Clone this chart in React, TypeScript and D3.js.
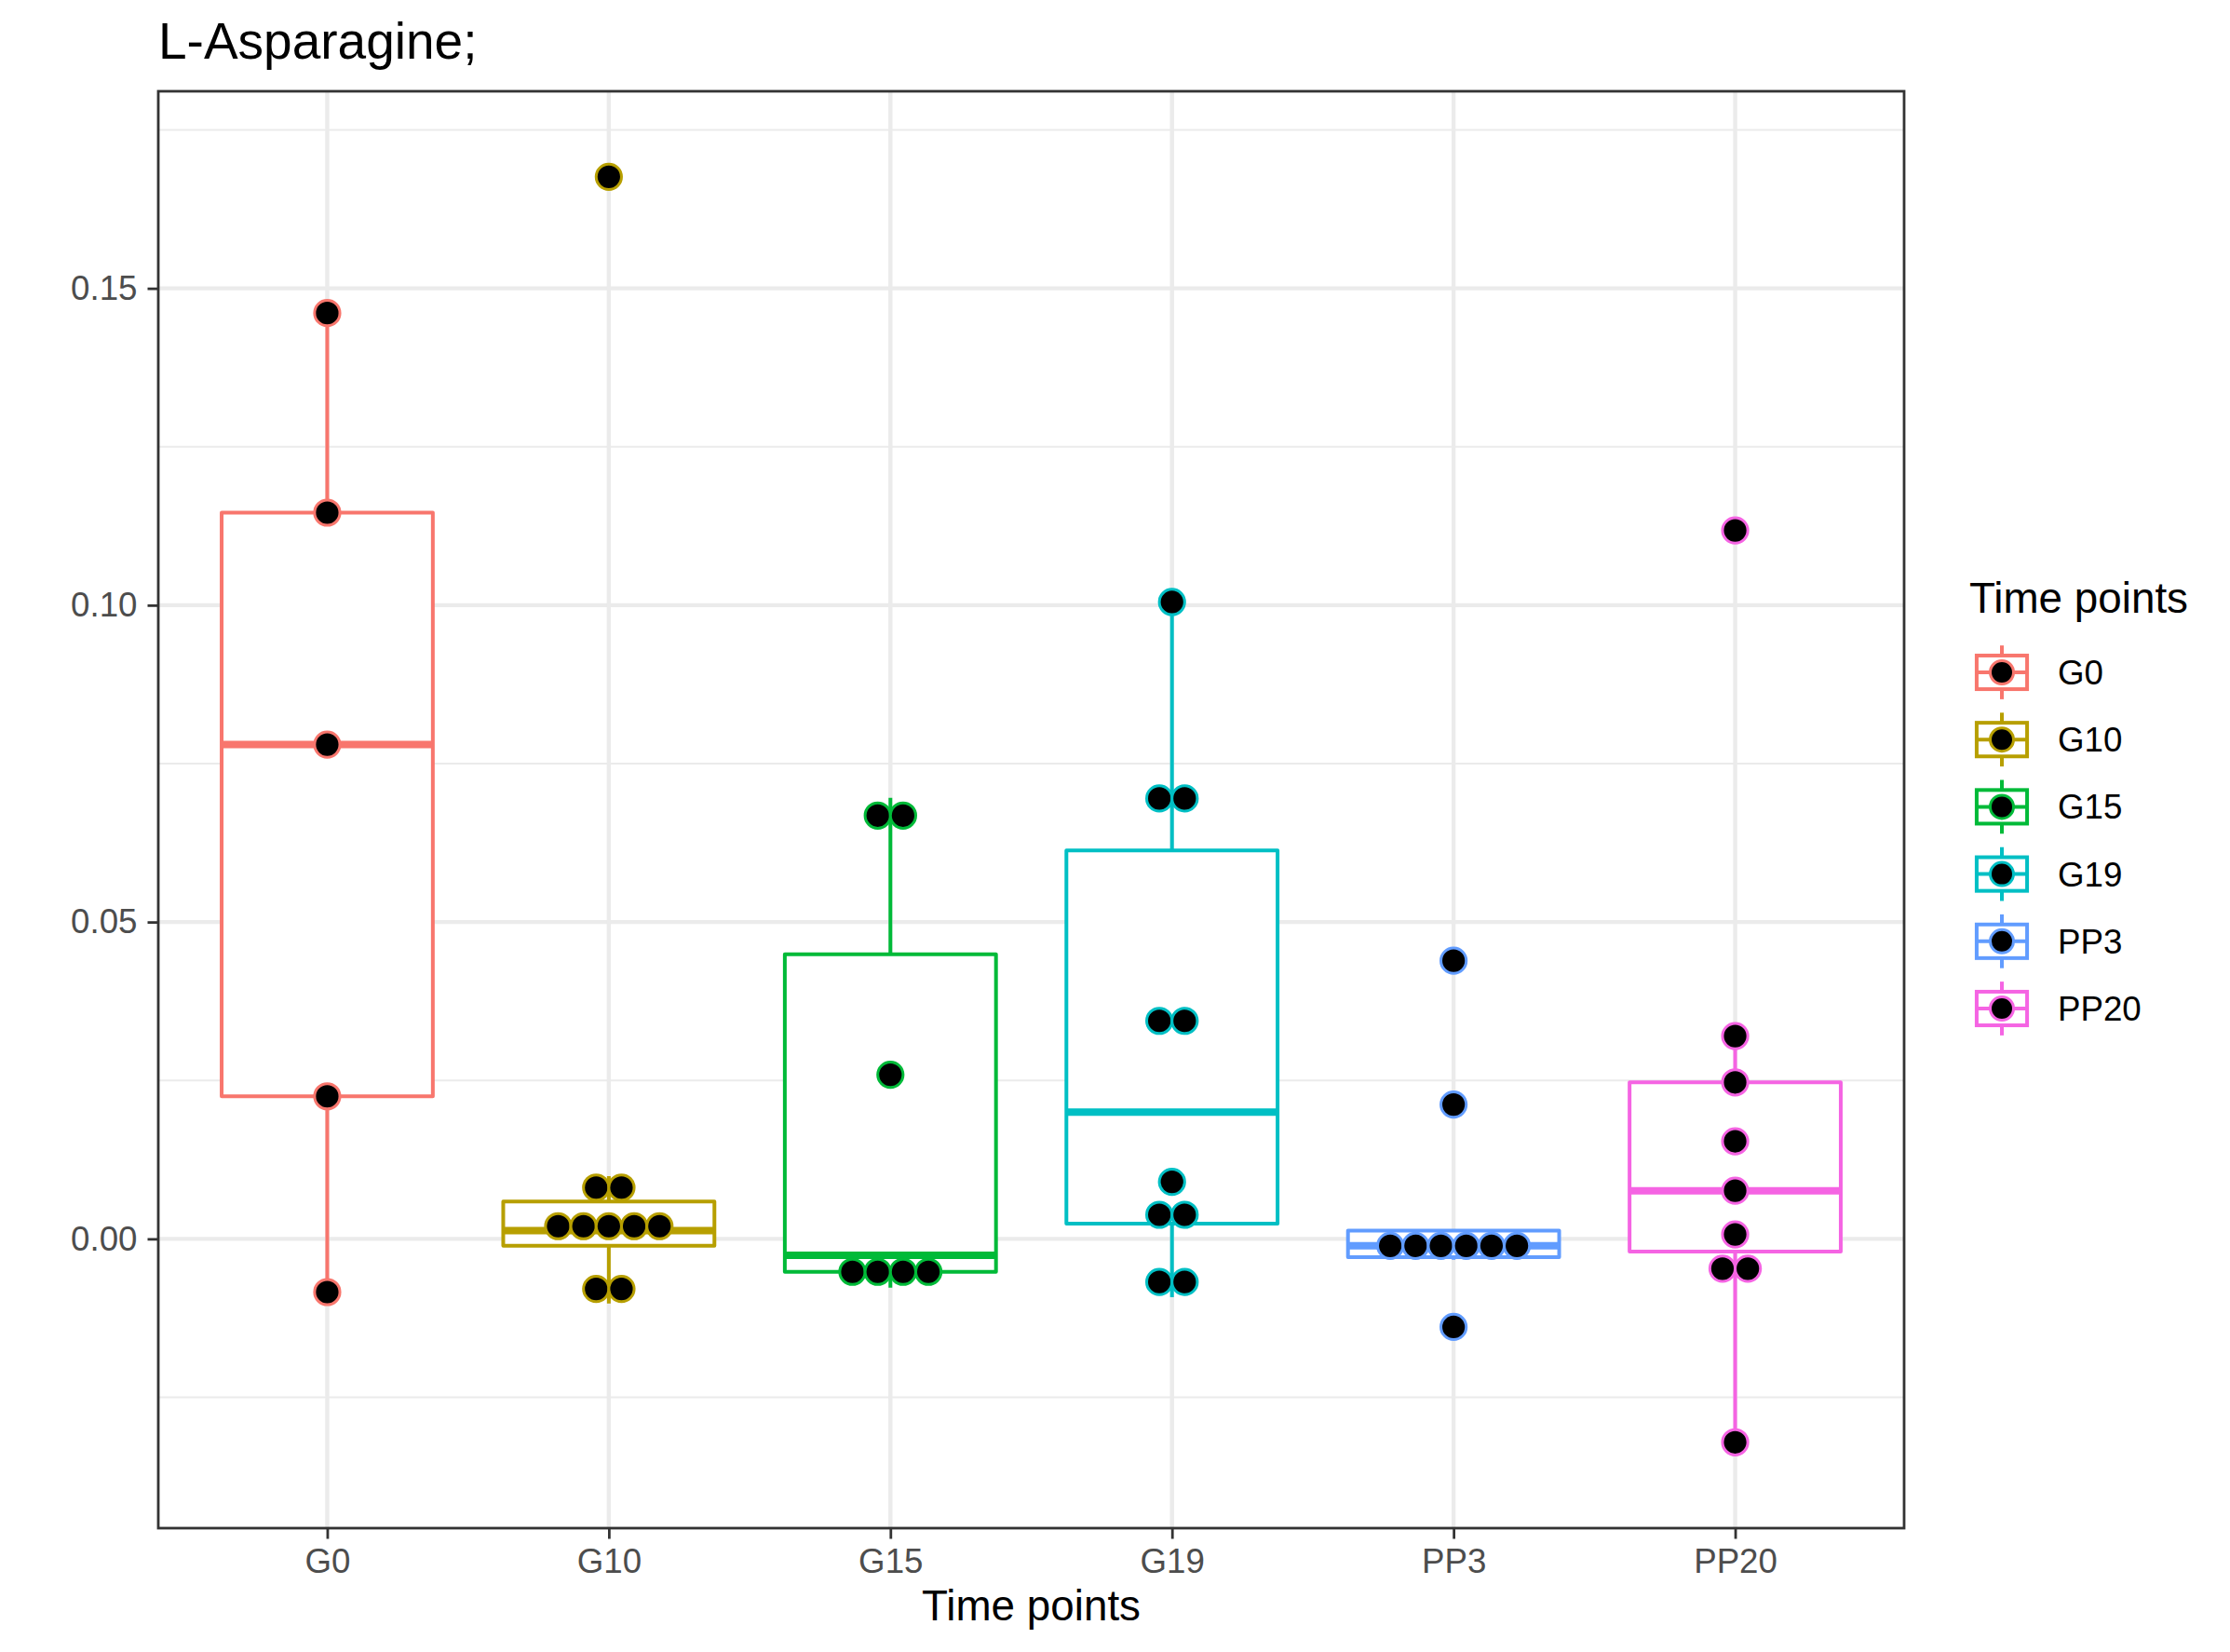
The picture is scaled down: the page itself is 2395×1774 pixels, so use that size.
import React, { useRef, useEffect } from 'react';
import * as d3 from 'd3';

// time point groups and their colours (ggplot hue palette)
const groups = ['G0', 'G10', 'G15', 'G19', 'PP3', 'PP20'];
const colors = ['#F8766D', '#B79F00', '#00BA38', '#00BFC4', '#619CFF', '#F564E3'];

// box statistics, one value per group
const whiskerLow = [-0.0084, -0.0102, -0.0077, -0.0092, -0.0033, -0.0321];
const q1 = [0.0225, -0.0011, -0.0052, 0.0024, -0.0029, -0.0020];
const median = [0.078, 0.0013, -0.0026, 0.0200, -0.0011, 0.0076];
const q3 = [0.1146, 0.0059, 0.0449, 0.0613, 0.0013, 0.0247];
const whiskerHigh = [0.1461, 0.0099, 0.0696, 0.1005, 0.0013, 0.0320];

// dot positions (binned values of the dotplot)
const g0Dots = [0.1461, 0.1146, 0.078, 0.0225, -0.0084];
const g10Dots = [0.1676, 0.0081, 0.0081, 0.0020, 0.0020, 0.0020, 0.0020, 0.0020, -0.0079, -0.0079];
const g15Dots = [0.0668, 0.0668, 0.0259, -0.0052, -0.0052, -0.0052, -0.0052];
const g19Dots = [0.1005, 0.0695, 0.0695, 0.0344, 0.0344, 0.0090, 0.0038, 0.0038, -0.0068, -0.0068];
const pp3Dots = [0.0439, 0.0212, -0.0011, -0.0011, -0.0011, -0.0011, -0.0011, -0.0011, -0.0139];
const pp20Dots = [0.1118, 0.0320, 0.0247, 0.0154, 0.0076, 0.0007, -0.0047, -0.0047, -0.0321];
const dots = [g0Dots, g10Dots, g15Dots, g19Dots, pp3Dots, pp20Dots];

const yTicks = [0, 0.05, 0.1, 0.15];
const yMinor = [-0.025, 0.025, 0.075, 0.125, 0.175];

const FONT = '"Liberation Sans", Arial, Helvetica, sans-serif';

const BoxDotPlot = ({ width, height }) => {
  const svgRef = useRef();

  useEffect(() => {
    const svg = d3.select(svgRef.current);
    svg.selectAll('*').remove();

    const panel = { left: 170, right: 2045, top: 98, bottom: 1641 };

    const x = d3.scalePoint()
      .domain(groups)
      .range([panel.left, panel.right])
      .padding(0.6);

    const y = d3.scaleLinear()
      .domain([-0.04565, 0.1811])
      .range([panel.bottom, panel.top]);

    const boxW = x.step() * 0.75;
    const dotR = 13.6;

    svg.append('rect')
      .attr('width', width).attr('height', height).attr('fill', '#fff');

    // grid
    const grid = svg.append('g');
    grid.selectAll('.minor').data(yMinor).enter().append('line')
      .attr('x1', panel.left).attr('x2', panel.right)
      .attr('y1', d => y(d)).attr('y2', d => y(d))
      .attr('stroke', '#EBEBEB').attr('stroke-width', 2.2);
    grid.selectAll('.major').data(yTicks).enter().append('line')
      .attr('x1', panel.left).attr('x2', panel.right)
      .attr('y1', d => y(d)).attr('y2', d => y(d))
      .attr('stroke', '#EBEBEB').attr('stroke-width', 4.4);
    grid.selectAll('.vmajor').data(groups).enter().append('line')
      .attr('x1', d => x(d)).attr('x2', d => x(d))
      .attr('y1', panel.top).attr('y2', panel.bottom)
      .attr('stroke', '#EBEBEB').attr('stroke-width', 4.4);

    // boxplots
    groups.forEach((grp, i) => {
      const cx = x(grp);
      const g = svg.append('g')
        .attr('stroke', colors[i]).attr('fill', 'none');
      g.append('line')
        .attr('x1', cx).attr('x2', cx)
        .attr('y1', y(q3[i])).attr('y2', y(whiskerHigh[i]))
        .attr('stroke-width', 4);
      g.append('line')
        .attr('x1', cx).attr('x2', cx)
        .attr('y1', y(q1[i])).attr('y2', y(whiskerLow[i]))
        .attr('stroke-width', 4);
      g.append('rect')
        .attr('x', cx - boxW / 2).attr('width', boxW)
        .attr('y', y(q3[i])).attr('height', y(q1[i]) - y(q3[i]))
        .attr('fill', '#fff')
        .attr('stroke-width', 4).attr('stroke-linejoin', 'round');
      g.append('line')
        .attr('x1', cx - boxW / 2).attr('x2', cx + boxW / 2)
        .attr('y1', y(median[i])).attr('y2', y(median[i]))
        .attr('stroke-width', 8);
    });

    // dotplot, stacked centred in each bin
    groups.forEach((grp, i) => {
      const bins = d3.groups(dots[i], d => d);
      const pts = [];
      bins.forEach(([val, arr]) => {
        arr.forEach((_, j) => {
          pts.push({ v: val, off: (j - (arr.length - 1) / 2) * dotR * 2 });
        });
      });
      svg.append('g').selectAll('circle')
        .data(pts).enter().append('circle')
        .attr('cx', d => x(grp) + d.off)
        .attr('cy', d => y(d.v))
        .attr('r', dotR)
        .attr('fill', '#000')
        .attr('stroke', colors[i])
        .attr('stroke-width', 3);
    });

    // panel border
    svg.append('rect')
      .attr('x', panel.left).attr('y', panel.top)
      .attr('width', panel.right - panel.left).attr('height', panel.bottom - panel.top)
      .attr('fill', 'none').attr('stroke', '#333333').attr('stroke-width', 2.8);

    // axes
    const yAxis = svg.append('g')
      .attr('transform', `translate(${panel.left},0)`)
      .call(d3.axisLeft(y).tickValues(yTicks).tickFormat(d3.format('.2f')).tickSize(11.5).tickPadding(11));
    const xAxis = svg.append('g')
      .attr('transform', `translate(0,${panel.bottom})`)
      .call(d3.axisBottom(x).tickSize(11.5).tickPadding(10));
    [yAxis, xAxis].forEach(ax => {
      ax.select('.domain').remove();
      ax.selectAll('.tick line').attr('stroke', '#333333').attr('stroke-width', 2.8);
      ax.selectAll('.tick text')
        .attr('fill', '#4D4D4D')
        .style('font-family', FONT)
        .style('font-size', '36.7px');
    });

    // titles
    svg.append('text')
      .attr('x', 170).attr('y', 63)
      .style('font-family', FONT).style('font-size', '55px')
      .text('L-Asparagine;');
    svg.append('text')
      .attr('x', (panel.left + panel.right) / 2).attr('y', 1740)
      .attr('text-anchor', 'middle')
      .style('font-family', FONT).style('font-size', '45.8px')
      .text('Time points');

    // legend
    const legend = svg.append('g');
    legend.append('text')
      .attr('x', 2115).attr('y', 658)
      .style('font-family', FONT).style('font-size', '45.8px')
      .text('Time points');
    const keySize = 72.2;
    groups.forEach((grp, i) => {
      const cy = 722 + i * keySize;
      const cx = 2150;
      const k = legend.append('g').attr('stroke', colors[i]).attr('fill', 'none').attr('stroke-width', 4);
      k.append('line').attr('x1', cx).attr('x2', cx)
        .attr('y1', cy - keySize * 0.4).attr('y2', cy + keySize * 0.4);
      k.append('rect')
        .attr('x', cx - keySize * 0.375).attr('width', keySize * 0.75)
        .attr('y', cy - keySize * 0.25).attr('height', keySize * 0.5)
        .attr('fill', '#fff');
      k.append('line').attr('x1', cx - keySize * 0.375).attr('x2', cx + keySize * 0.375)
        .attr('y1', cy).attr('y2', cy);
      k.append('circle').attr('cx', cx).attr('cy', cy).attr('r', 12.5)
        .attr('fill', '#000').attr('stroke-width', 3);
      legend.append('text')
        .attr('x', 2210).attr('y', cy + 13)
        .style('font-family', FONT).style('font-size', '36.7px')
        .text(grp);
    });
  }, [width, height]);

  return <svg ref={svgRef} width={width} height={height} style={{ position: 'absolute', left: 0, top: 0 }} />;
};

export default function App() {
  return <BoxDotPlot width={2395} height={1774} />;
}
